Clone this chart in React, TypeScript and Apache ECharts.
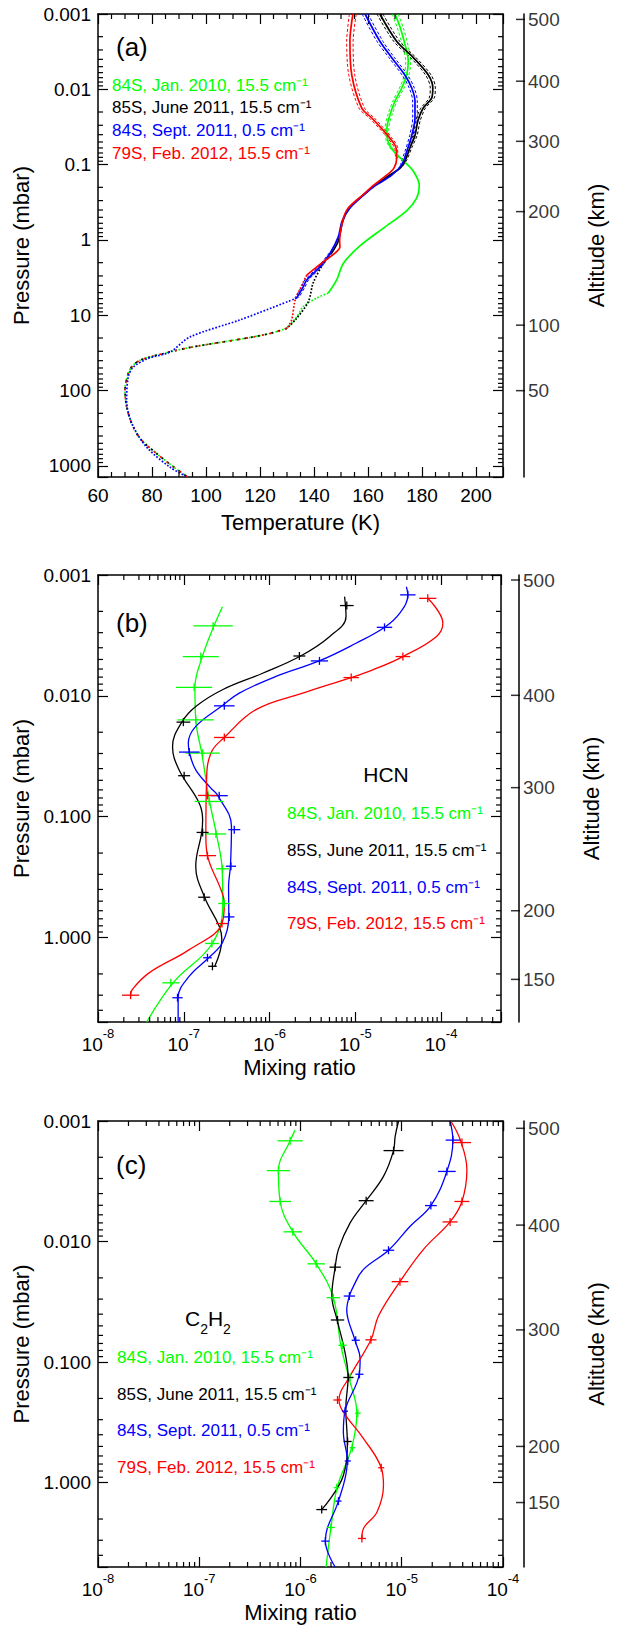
import React, { useEffect, useRef } from "react";
import * as echarts from "echarts";

const FONT = "'Liberation Sans', Arial, sans-serif";
const GREEN = "#00ff00";
const BLACK = "#000000";
const BLUE = "#0000ff";
const RED = "#ff0000";

// ---------- shared texts ----------
const legendLines = [
  "84S, Jan. 2010, 15.5 cm\u207B\u00B9",
  "85S, June 2011, 15.5 cm\u207B\u00B9",
  "84S, Sept. 2011, 0.5 cm\u207B\u00B9",
  "79S, Feb. 2012, 15.5 cm\u207B\u00B9",
];
const legendColors = [GREEN, BLACK, BLUE, RED];

// ---------- Panel (a): temperature ----------
const tempTickValues = [60, 80, 100, 120, 140, 160, 180, 200];
const tempTickLabels = ["60", "80", "100", "120", "140", "160", "180", "200"];
const pressTickValuesA = [0.001, 0.01, 0.1, 1, 10, 100, 1000];
const pressTickLabelsA = ["0.001", "0.01", "0.1", "1", "10", "100", "1000"];
const altLabelsA = ["500", "400", "300", "200", "100", "50"];
const altPressA = [0.00118, 0.0078, 0.049, 0.42, 13.5, 100];

const greenP_a = [0.001, 0.0015, 0.0028, 0.0042, 0.0065, 0.0096, 0.0143, 0.022, 0.033, 0.049, 0.066, 0.089, 0.122, 0.19, 0.278, 0.41, 0.7, 1.2, 2.03, 3.39, 5.07];
const greenT_a = [170, 171.9, 174, 174.9, 174.3, 172.5, 170, 168.1, 167, 167.4, 169.4, 173.1, 176.8, 179, 178, 174.3, 165.6, 157, 150.9, 148.4, 145.3];
const greenErr_a = [1.3, 1.3, 1.2, 1.1, 1.0, 1.0, 0.9, 0.9, 0.8, 0.7, 0.5, 0, 0, 0, 0, 0, 0, 0, 0, 0, 0];
const greenApP = [5.07, 5.9, 7.7, 10.5, 14.9];
const greenApT = [145.3, 141, 136, 133.6, 129.9];

const blackP_a = [0.001, 0.0023, 0.0038, 0.0065, 0.0096, 0.013, 0.0178, 0.026, 0.041, 0.06, 0.089, 0.111, 0.138, 0.19, 0.25, 0.38, 0.56, 1.03, 1.5];
const blackT_a = [164.4, 170.6, 176.8, 182.4, 184, 183.6, 180.4, 178.5, 177.4, 175.5, 173.7, 171.9, 168, 162.3, 158.4, 153, 150.7, 149, 146.5];
const blackErr_a = [1.3, 1.3, 1.2, 1.2, 1.1, 1.1, 1.0, 1.0, 0.9, 0.8, 0.6, 0.4, 0, 0, 0, 0, 0, 0, 0];
const blackApP = [1.5, 2.05, 3.7, 6.6, 11.6, 14.9];
const blackApT = [146.5, 143.5, 139.7, 137.9, 133, 129.9];

const blueP_a = [0.001, 0.0023, 0.0038, 0.0065, 0.0096, 0.0143, 0.024, 0.041, 0.066, 0.1, 0.138, 0.19, 0.25, 0.38, 0.56, 0.91, 1.49, 2.27, 3.39, 4.2, 5.9];
const blueT_a = [158.9, 164.4, 168.8, 173.7, 176.2, 177.4, 177.4, 176.2, 174.4, 172.5, 168.8, 162.7, 158.6, 153.2, 150.4, 149, 146, 142.2, 137.3, 136, 133.6];
const blueErr_a = [1.3, 1.3, 1.2, 1.2, 1.1, 1.0, 1.0, 0.9, 0.8, 0.6, 0, 0, 0, 0, 0, 0, 0.5, 0.7, 0.8, 0.8, 0.8];
const blueApP = [5.9, 11.5, 19.4, 30.7, 37.4, 49, 66, 134, 270, 562, 1040, 1400];
const blueApT = [133.6, 112.6, 94, 86.7, 78.5, 73, 71.2, 70.6, 72.5, 78, 86.7, 93.2];

const redP_a = [0.001, 0.0023, 0.0065, 0.0178, 0.024, 0.033, 0.044, 0.06, 0.084, 0.111, 0.138, 0.19, 0.25, 0.38, 0.56, 1.03, 1.24, 1.49, 1.95, 2.92];
const redT_a = [154.4, 153.3, 154, 157.7, 161.4, 165, 168, 170.4, 170.6, 169.6, 166.9, 161.9, 158.2, 152.6, 150.6, 149.5, 149.6, 147.8, 143.4, 137.3];
const redErr_a = [1.5, 1.4, 1.3, 1.2, 1.1, 1.0, 0.9, 0.7, 0.5, 0, 0, 0, 0, 0, 0, 0, 0, 0, 0, 0];
const redApP = [2.92, 4.2, 6.3, 11.6, 14.9];
const redApT = [137.3, 135.2, 133, 131.7, 129.9];

// common a priori below ~15 mbar (green / black / red)
const commonApP = [14.9, 17.4, 19.7, 22.5, 26.7, 31.4, 39.4, 48.3, 59, 98, 164, 273, 432, 683, 1024, 1400];
const commonApT = [129.9, 123.7, 116.3, 106.4, 94.1, 85.4, 75.6, 72.5, 71.2, 70, 70.6, 72.5, 75.6, 81.7, 87.9, 93.2];

// ---------- Panel (b): HCN ----------
const mixTickValues = [1e-8, 1e-7, 1e-6, 1e-5, 1e-4];
const mixTickExponents = ["-8", "-7", "-6", "-5", "-4"];
const pressTickValuesBC = [0.001, 0.01, 0.1, 1];
const pressTickLabelsBC = ["0.001", "0.010", "0.100", "1.000"];
const altLabelsB = ["500", "400", "300", "200", "150"];
const altPressB = [0.0011, 0.0099, 0.0575, 0.6, 2.22];

const hcnGreenP = [0.00183, 0.00264, 0.00473, 0.0085, 0.0158, 0.0298, 0.0748, 0.139, 0.27, 0.523, 1.12, 2.37, 5.0];
const hcnGreenV = [2.83e-7, 2.25e-7, 1.65e-7, 1.35e-7, 1.38e-7, 1.62e-7, 2.0e-7, 2.4e-7, 2.8e-7, 2.85e-7, 2.15e-7, 7.5e-8, 3.7e-8];
const hcnGreenErrP = [0.00264, 0.00473, 0.0085, 0.0158, 0.0298, 0.0748, 0.139, 0.27, 0.523, 1.12, 2.37];
const hcnGreenErrV = [2.2e-7, 1.58e-7, 1.32e-7, 1.38e-7, 1.66e-7, 1.98e-7, 2.37e-7, 2.83e-7, 2.97e-7, 2.13e-7, 7.07e-8];
const hcnGreenErrD = [0.23, 0.21, 0.21, 0.21, 0.2, 0.17, 0.12, 0.075, 0.07, 0.08, 0.1];

const hcnBlackP = [0.00151, 0.0022, 0.00324, 0.00468, 0.0065, 0.0089, 0.0122, 0.0165, 0.0262, 0.0409, 0.077, 0.106, 0.135, 0.257, 0.464, 0.807, 1.04, 1.73];
const hcnBlackV = [7.5e-6, 7.8e-6, 5.0e-6, 2.3e-6, 8.3e-7, 2.83e-7, 1.39e-7, 9.5e-8, 7.4e-8, 8.8e-8, 1.51e-7, 1.66e-7, 1.62e-7, 1.38e-7, 1.75e-7, 2.59e-7, 2.78e-7, 2.3e-7];
const hcnBlackErrP = [0.00179, 0.00468, 0.0165, 0.0458, 0.135, 0.464, 1.73];
const hcnBlackErrV = [7.96e-6, 2.23e-6, 9.9e-8, 1.01e-7, 1.66e-7, 1.73e-7, 2.16e-7];
const hcnBlackErrD = [0.08, 0.07, 0.08, 0.07, 0.07, 0.07, 0.05];

const hcnBlueP = [0.00125, 0.00146, 0.00207, 0.00271, 0.00367, 0.00514, 0.0069, 0.0095, 0.0121, 0.0179, 0.0246, 0.0292, 0.041, 0.058, 0.067, 0.12, 0.257, 0.376, 0.675, 1.1, 1.47, 2.09, 3.15, 5.0];
const hcnBlueV = [3.94e-5, 4.1e-5, 3.3e-5, 2.2e-5, 1.02e-5, 3.8e-6, 1.19e-6, 4.44e-7, 2.8e-7, 1.38e-7, 1.13e-7, 1.16e-7, 1.38e-7, 2.07e-7, 2.5e-7, 3.6e-7, 3.5e-7, 3.33e-7, 3.35e-7, 2.83e-7, 1.95e-7, 1.16e-7, 8.6e-8, 8.6e-8];
const hcnBlueErrP = [0.00146, 0.00271, 0.00514, 0.0121, 0.0292, 0.067, 0.128, 0.257, 0.675, 1.47, 3.15];
const hcnBlueErrV = [4.1e-5, 2.19e-5, 3.82e-6, 2.97e-7, 1.16e-7, 2.59e-7, 3.88e-7, 3.55e-7, 3.39e-7, 1.89e-7, 8.45e-8];
const hcnBlueErrD = [0.09, 0.09, 0.1, 0.12, 0.12, 0.1, 0.07, 0.06, 0.06, 0.05, 0.06];

const hcnRedP = [0.00156, 0.00251, 0.00324, 0.00473, 0.0061, 0.00706, 0.0095, 0.013, 0.0221, 0.0298, 0.0525, 0.146, 0.21, 0.4, 0.516, 0.766, 1.26, 1.96, 2.69, 3.0];
const hcnRedV = [7.0e-5, 1.05e-4, 8.8e-5, 3.59e-5, 1.6e-5, 8.96e-6, 2.44e-6, 6.95e-7, 2.97e-7, 2.07e-7, 1.84e-7, 1.81e-7, 1.89e-7, 2.71e-7, 2.97e-7, 2.79e-7, 1.16e-7, 3.94e-8, 2.51e-8, 2.4e-8];
const hcnRedErrP = [0.00156, 0.00473, 0.00706, 0.0221, 0.0667, 0.21, 0.766, 3.0];
const hcnRedErrV = [7.0e-5, 3.59e-5, 8.96e-6, 2.97e-7, 1.89e-7, 1.89e-7, 2.79e-7, 2.4e-8];
const hcnRedErrD = [0.1, 0.085, 0.09, 0.12, 0.11, 0.1, 0.07, 0.1];

// ---------- Panel (c): C2H2 ----------
const altLabelsC = ["500", "400", "300", "200", "150"];
const altPressC = [0.00115, 0.0073, 0.054, 0.5, 1.46];

const c2GreenP = [0.00119, 0.00146, 0.00258, 0.00465, 0.0083, 0.0153, 0.0292, 0.0724, 0.134, 0.265, 0.513, 1.1, 2.35, 5.0];
const c2GreenV = [8.85e-7, 7.9e-7, 6.05e-7, 6.3e-7, 8.4e-7, 1.43e-6, 2.11e-6, 2.5e-6, 3.0e-6, 3.6e-6, 3.2e-6, 2.3e-6, 2.0e-6, 1.79e-6];
const c2GreenErrP = [0.00146, 0.00258, 0.00465, 0.0083, 0.0153, 0.0292, 0.0724, 0.134, 0.265, 0.513, 1.1, 2.35];
const c2GreenErrV = [7.9e-7, 6.05e-7, 6.3e-7, 8.4e-7, 1.43e-6, 2.11e-6, 2.6e-6, 3.09e-6, 3.68e-6, 3.26e-6, 2.28e-6, 1.99e-6];
const c2GreenErrD = [0.124, 0.115, 0.107, 0.092, 0.087, 0.066, 0.041, 0.033, 0.028, 0.028, 0.028, 0.04];

const c2BlackP = [0.001, 0.00135, 0.00176, 0.00288, 0.00458, 0.007, 0.0116, 0.0163, 0.0283, 0.0447, 0.083, 0.134, 0.244, 0.455, 0.87, 1.67];
const c2BlackV = [9.3e-6, 8.6e-6, 8.3e-6, 6.6e-6, 4.45e-6, 3.09e-6, 2.37e-6, 2.2e-6, 2.04e-6, 2.3e-6, 2.75e-6, 2.95e-6, 2.8e-6, 2.9e-6, 2.65e-6, 1.62e-6];
const c2BlackErrP = [0.00176, 0.00458, 0.0163, 0.0447, 0.134, 0.455, 1.67];
const c2BlackErrV = [8.3e-6, 4.45e-6, 2.2e-6, 2.32e-6, 2.97e-6, 2.92e-6, 1.62e-6];
const c2BlackErrD = [0.099, 0.074, 0.056, 0.066, 0.05, 0.04, 0.053];

const c2BlueP = [0.001, 0.00144, 0.00262, 0.00503, 0.00746, 0.0118, 0.017, 0.0234, 0.0283, 0.0365, 0.0658, 0.094, 0.126, 0.255, 0.38, 0.66, 0.93, 1.42, 3.05, 5.0];
const c2BlueV = [3.0e-5, 3.2e-5, 2.79e-5, 1.94e-5, 1.21e-5, 7.4e-6, 4.19e-6, 3.34e-6, 3.04e-6, 2.86e-6, 3.45e-6, 3.88e-6, 3.8e-6, 2.75e-6, 2.65e-6, 2.9e-6, 2.75e-6, 2.37e-6, 1.76e-6, 2.2e-6];
const c2BlueErrP = [0.00144, 0.00262, 0.00503, 0.0118, 0.0283, 0.0658, 0.126, 0.255, 0.66, 1.42, 3.05];
const c2BlueErrV = [3.2e-5, 2.79e-5, 1.94e-5, 7.4e-6, 3.04e-6, 3.51e-6, 3.82e-6, 2.75e-6, 2.93e-6, 2.37e-6, 1.76e-6];
const c2BlueErrD = [0.072, 0.087, 0.058, 0.056, 0.056, 0.04, 0.04, 0.03, 0.03, 0.03, 0.04];

const c2RedP = [0.001, 0.00143, 0.00254, 0.00465, 0.00687, 0.0116, 0.0215, 0.0414, 0.0653, 0.13, 0.206, 0.26, 0.43, 0.751, 1.05, 1.75, 2.4, 2.9];
const c2RedV = [3.05e-5, 3.78e-5, 4.4e-5, 3.93e-5, 3.0e-5, 1.64e-5, 9.6e-6, 5.89e-6, 4.96e-6, 3.09e-6, 2.4e-6, 2.65e-6, 4.19e-6, 6.27e-6, 6.6e-6, 5.7e-6, 4.19e-6, 4.04e-6];
const c2RedErrP = [0.00151, 0.00465, 0.00687, 0.0215, 0.0653, 0.206, 0.751, 2.9];
const c2RedErrV = [3.93e-5, 3.93e-5, 3.0e-5, 9.6e-6, 4.96e-6, 2.32e-6, 6.27e-6, 4.04e-6];
const c2RedErrD = [0.09, 0.074, 0.074, 0.082, 0.055, 0.04, 0.03, 0.04];

// ---------- layout ----------
const GA = { left: 98, top: 14, width: 405, height: 463 };
const GB = { left: 98, top: 575, width: 403, height: 447 };
const GC = { left: 98, top: 1121, width: 405, height: 446 };
const ALT_X = [525, 520, 525];

const findIdx = (vals: number[], v: number, log: boolean) =>
  vals.findIndex((t) => (log ? Math.abs(Math.log10(v) - Math.log10(t)) < 1e-4 : Math.abs(v - t) < 1e-6));

const labelFrom = (vals: number[], labs: string[], log: boolean) => (v: number) => {
  const i = findIdx(vals, v, log);
  return i >= 0 ? labs[i] : "";
};

const expLabel = (v: number) => {
  const i = findIdx(mixTickValues, v, true);
  return i >= 0 ? `{b|10}{e|${mixTickExponents[i]}}` : "";
};

function logMinors(lo: number, hi: number) {
  const out: number[] = [];
  for (let k = Math.floor(Math.log10(lo)); k <= Math.ceil(Math.log10(hi)); k++) {
    for (let m = 2; m <= 9; m++) {
      const v = m * Math.pow(10, k);
      if (v > lo * 1.0001 && v < hi * 0.9999) out.push(v);
    }
  }
  return out;
}

const axisLineStyle = { color: BLACK, width: 1.5 };
const MAJOR = 10;
const MINOR = 5;

function yMinorSeries(xi: number, yi: number, xAny: number, values: number[]) {
  return {
    type: "custom",
    xAxisIndex: xi,
    yAxisIndex: yi,
    silent: true,
    clip: false,
    z: 5,
    data: values.map((v) => [xAny, v]),
    renderItem: (params: any, api: any) => {
      const pt = api.coord([api.value(0), api.value(1)]);
      const cs = params.coordSys;
      return {
        type: "group",
        children: [
          { type: "line", shape: { x1: cs.x, y1: pt[1], x2: cs.x + MINOR, y2: pt[1] }, style: { stroke: BLACK, lineWidth: 1.2 } },
          { type: "line", shape: { x1: cs.x + cs.width, y1: pt[1], x2: cs.x + cs.width - MINOR, y2: pt[1] }, style: { stroke: BLACK, lineWidth: 1.2 } },
        ],
      };
    },
  };
}

function xMinorSeries(xi: number, yi: number, yAny: number, values: number[]) {
  return {
    type: "custom",
    xAxisIndex: xi,
    yAxisIndex: yi,
    silent: true,
    clip: false,
    z: 5,
    data: values.map((v) => [v, yAny]),
    renderItem: (params: any, api: any) => {
      const pt = api.coord([api.value(0), api.value(1)]);
      const cs = params.coordSys;
      return {
        type: "group",
        children: [
          { type: "line", shape: { x1: pt[0], y1: cs.y + cs.height, x2: pt[0], y2: cs.y + cs.height - MINOR }, style: { stroke: BLACK, lineWidth: 1.2 } },
          { type: "line", shape: { x1: pt[0], y1: cs.y, x2: pt[0], y2: cs.y + MINOR }, style: { stroke: BLACK, lineWidth: 1.2 } },
        ],
      };
    },
  };
}

function errSeries(xi: number, yi: number, P: number[], V: number[], D: number[], color: string) {
  return {
    type: "custom",
    xAxisIndex: xi,
    yAxisIndex: yi,
    silent: true,
    clip: false,
    z: 6,
    data: P.map((p, i) => [V[i], p, D[i]]),
    renderItem: (params: any, api: any) => {
      const c = api.value(0);
      const p = api.value(1);
      const d = api.value(2);
      const f = Math.pow(10, d);
      const a = api.coord([c / f, p]);
      const b = api.coord([c * f, p]);
      const m = api.coord([c, p]);
      return {
        type: "group",
        children: [
          { type: "line", shape: { x1: a[0], y1: a[1], x2: b[0], y2: b[1] }, style: { stroke: color, lineWidth: 1.3 } },
          { type: "line", shape: { x1: m[0], y1: m[1] - 4, x2: m[0], y2: m[1] + 4 }, style: { stroke: color, lineWidth: 1.3 } },
        ],
      };
    },
  };
}

function lineSeries(xi: number, yi: number, X: number[], P: number[], color: string, width: number, type: any, smooth: any) {
  return {
    type: "line",
    xAxisIndex: xi,
    yAxisIndex: yi,
    data: P.map((p, i) => [X[i], p]),
    showSymbol: false,
    symbol: "none",
    smooth,
    silent: true,
    lineStyle: { color, width, type },
    z: 4,
  };
}

function envelopeSeries(P: number[], T: number[], E: number[], color: string) {
  const out: any[] = [];
  for (const sign of [1, -1]) {
    let seg: number[][] = [];
    const flush = () => {
      if (seg.length > 1) {
        out.push({
          type: "line",
          xAxisIndex: 0,
          yAxisIndex: 0,
          data: seg,
          showSymbol: false,
          symbol: "none",
          smooth: 0.3,
          silent: true,
          lineStyle: { color, width: 1, type: [3, 2] },
          z: 3,
        });
      }
      seg = [];
    };
    P.forEach((p, i) => {
      if (E[i] > 0) seg.push([T[i] + sign * E[i] * 0.85, p]);
      else flush();
    });
    flush();
  }
  return out;
}

function altSeries(xi: number, yi: number, P: number[], labels: string[]) {
  return {
    type: "scatter",
    xAxisIndex: xi,
    yAxisIndex: yi,
    silent: true,
    clip: false,
    symbol: "rect",
    symbolSize: [9, 1.5],
    symbolOffset: [-4.5, 0],
    itemStyle: { color: BLACK },
    data: P.map((p, i) => ({ value: [1, p], name: labels[i] })),
    label: {
      show: true,
      position: "right",
      distance: 3,
      formatter: "{b}",
      fontSize: 19,
      fontFamily: FONT,
      color: BLACK,
    },
    z: 5,
  };
}

function buildOption() {
  const tickLabelStyle = { fontSize: 19, fontFamily: FONT, color: BLACK };
  const nameStyle = { fontSize: 22, fontFamily: FONT, color: BLACK };
  const richExp = {
    b: { fontSize: 19, fontFamily: FONT, color: BLACK, lineHeight: 27, verticalAlign: "bottom" },
    e: { fontSize: 13, fontFamily: FONT, color: BLACK, lineHeight: 27, verticalAlign: "top" },
  };
  const grids: any[] = [];
  const xAxes: any[] = [];
  const yAxes: any[] = [];
  const series: any[] = [];

  const panels = [
    { g: GA, xType: "value", xMin: 60, xMax: 210, xName: "Temperature (K)", yMax: 1400, yVals: pressTickValuesA, yLabs: pressTickLabelsA, altP: altPressA, altL: altLabelsA },
    { g: GB, xType: "log", xMin: 1e-8, xMax: 5e-4, xName: "Mixing ratio", yMax: 5, yVals: pressTickValuesBC, yLabs: pressTickLabelsBC, altP: altPressB, altL: altLabelsB },
    { g: GC, xType: "log", xMin: 1e-8, xMax: 1e-4, xName: "Mixing ratio", yMax: 5, yVals: pressTickValuesBC, yLabs: pressTickLabelsBC, altP: altPressC, altL: altLabelsC },
  ];

  panels.forEach((pn, k) => {
    const gi = grids.length;
    grids.push({ left: pn.g.left, top: pn.g.top, width: pn.g.width, height: pn.g.height, containLabel: false });
    grids.push({ left: ALT_X[k] - 1, top: pn.g.top, width: 1, height: pn.g.height, containLabel: false });
    const isLog = pn.xType === "log";
    const xBase: any = {
      gridIndex: gi,
      type: pn.xType,
      min: pn.xMin,
      max: pn.xMax,
      splitLine: { show: false },
      axisLine: { show: true, lineStyle: axisLineStyle },
      axisTick: { show: true, inside: true, length: MAJOR, lineStyle: { color: BLACK, width: 1.2 } },
      minorTick: { show: false },
    };
    if (!isLog) xBase.interval = 20;
    xAxes.push({
      ...xBase,
      position: "bottom",
      axisLabel: isLog
        ? { ...tickLabelStyle, margin: 5, formatter: expLabel, rich: richExp }
        : { ...tickLabelStyle, margin: 9, formatter: labelFrom(tempTickValues, tempTickLabels, false) },
      name: pn.xName,
      nameLocation: "middle",
      nameGap: 34,
      nameTextStyle: nameStyle,
    });
    xAxes.push({ ...xBase, position: "top", axisLabel: { show: false } });
    xAxes.push({ gridIndex: gi + 1, type: "value", min: 0, max: 1, show: false });

    const yBase: any = {
      gridIndex: gi,
      type: "log",
      logBase: 10,
      inverse: true,
      min: 0.001,
      max: pn.yMax,
      splitLine: { show: false },
      axisLine: { show: true, lineStyle: axisLineStyle },
      axisTick: { show: true, inside: true, length: MAJOR, lineStyle: { color: BLACK, width: 1.2 } },
      minorTick: { show: false },
    };
    yAxes.push({
      ...yBase,
      position: "left",
      axisLabel: { ...tickLabelStyle, margin: 7, formatter: labelFrom(pn.yVals, pn.yLabs, true) },
      name: "Pressure (mbar)",
      nameLocation: "middle",
      nameGap: 65,
      nameRotate: 90,
      nameTextStyle: nameStyle,
    });
    yAxes.push({ ...yBase, position: "right", axisLabel: { show: false } });
    yAxes.push({
      gridIndex: gi + 1,
      type: "log",
      logBase: 10,
      inverse: true,
      min: 0.001,
      max: pn.yMax,
      position: "right",
      splitLine: { show: false },
      axisLine: { show: true, lineStyle: axisLineStyle },
      axisTick: { show: false },
      axisLabel: { show: false },
      name: "Altitude (km)",
      nameLocation: "middle",
      nameGap: 60,
      nameRotate: 90,
      nameTextStyle: nameStyle,
    });

    const xi = k * 3;
    const yi = k * 3;
    series.push(yMinorSeries(xi, yi, isLog ? 1e-6 : 100, logMinors(0.001, pn.yMax)));
    if (isLog) {
      series.push(xMinorSeries(xi, yi, 0.01, logMinors(pn.xMin, pn.xMax)));
    } else {
      const vals: number[] = [];
      for (let v = 65; v < 210; v += 5) if (v % 20 !== 0) vals.push(v);
      series.push(xMinorSeries(xi, yi, 0.01, vals));
    }
    series.push(altSeries(xi + 2, yi + 2, pn.altP, pn.altL));
  });

  // ----- panel (a) lines -----
  const W = 1.7;
  series.push(...envelopeSeries(greenP_a, greenT_a, greenErr_a, GREEN));
  series.push(...envelopeSeries(blackP_a, blackT_a, blackErr_a, BLACK));
  series.push(...envelopeSeries(blueP_a, blueT_a, blueErr_a, BLUE));
  series.push(...envelopeSeries(redP_a, redT_a, redErr_a, RED));
  series.push(lineSeries(0, 0, greenApT, greenApP, GREEN, W, "dotted", 0.3));
  series.push(lineSeries(0, 0, commonApT, commonApP, GREEN, W, "dotted", 0.3));
  series.push(lineSeries(0, 0, blackApT, blackApP, BLACK, W, "dotted", 0.3));
  series.push(lineSeries(0, 0, commonApT, commonApP, BLACK, W, [2, 5], 0.3));
  series.push(lineSeries(0, 0, redApT, redApP, RED, W, "dotted", 0.3));
  series.push(lineSeries(0, 0, commonApT, commonApP, RED, W, [2, 6], 0.3));
  series.push(lineSeries(0, 0, blueApT, blueApP, BLUE, W, "dotted", 0.3));
  series.push(lineSeries(0, 0, greenT_a, greenP_a, GREEN, W, "solid", 0.3));
  series.push(lineSeries(0, 0, blackT_a, blackP_a, BLACK, W, "solid", 0.3));
  series.push(lineSeries(0, 0, blueT_a, blueP_a, BLUE, W, "solid", 0.3));
  series.push(lineSeries(0, 0, redT_a, redP_a, RED, W, "solid", 0.3));

  // ----- panel (b) -----
  const W2 = 1.3;
  series.push(lineSeries(3, 3, hcnGreenV, hcnGreenP, GREEN, W2, "solid", 0.4));
  series.push(lineSeries(3, 3, hcnBlackV, hcnBlackP, BLACK, W2, "solid", 0.4));
  series.push(lineSeries(3, 3, hcnBlueV, hcnBlueP, BLUE, W2, "solid", 0.4));
  series.push(lineSeries(3, 3, hcnRedV, hcnRedP, RED, W2, "solid", 0.4));
  series.push(errSeries(3, 3, hcnGreenErrP, hcnGreenErrV, hcnGreenErrD, GREEN));
  series.push(errSeries(3, 3, hcnBlackErrP, hcnBlackErrV, hcnBlackErrD, BLACK));
  series.push(errSeries(3, 3, hcnBlueErrP, hcnBlueErrV, hcnBlueErrD, BLUE));
  series.push(errSeries(3, 3, hcnRedErrP, hcnRedErrV, hcnRedErrD, RED));

  // ----- panel (c) -----
  series.push(lineSeries(6, 6, c2GreenV, c2GreenP, GREEN, W2, "solid", 0.4));
  series.push(lineSeries(6, 6, c2BlackV, c2BlackP, BLACK, W2, "solid", 0.4));
  series.push(lineSeries(6, 6, c2BlueV, c2BlueP, BLUE, W2, "solid", 0.4));
  series.push(lineSeries(6, 6, c2RedV, c2RedP, RED, W2, "solid", 0.4));
  series.push(errSeries(6, 6, c2GreenErrP, c2GreenErrV, c2GreenErrD, GREEN));
  series.push(errSeries(6, 6, c2BlackErrP, c2BlackErrV, c2BlackErrD, BLACK));
  series.push(errSeries(6, 6, c2BlueErrP, c2BlueErrV, c2BlueErrD, BLUE));
  series.push(errSeries(6, 6, c2RedErrP, c2RedErrV, c2RedErrD, RED));

  // ----- texts -----
  const txt = (x: number, y: number, text: string, color: string, size: number, align = "left") => ({
    type: "text",
    x,
    y,
    silent: true,
    z: 10,
    style: { text, fill: color, font: `${size}px ${FONT}`, textAlign: align, textVerticalAlign: "middle" },
  });
  const graphic: any[] = [];
  graphic.push(txt(116, 47, "(a)", BLACK, 26));
  graphic.push(txt(116, 623, "(b)", BLACK, 26));
  graphic.push(txt(116, 1165, "(c)", BLACK, 26));
  graphic.push(txt(386, 774, "HCN", BLACK, 21, "center"));
  graphic.push({
    type: "text",
    x: 185,
    y: 1322,
    silent: true,
    z: 10,
    style: {
      text: "{a|C}{s|2}{a|H}{s|2}",
      fill: BLACK,
      textVerticalAlign: "middle",
      rich: {
        a: { font: `21px ${FONT}`, fill: BLACK, lineHeight: 28, verticalAlign: "top" },
        s: { font: `14px ${FONT}`, fill: BLACK, lineHeight: 28, verticalAlign: "bottom" },
      },
    },
  });
  const legA = [85, 107, 130, 153];
  const legB = [813, 850, 887, 923];
  const legC = [1357, 1394, 1430, 1467];
  legendLines.forEach((s, i) => {
    graphic.push(txt(112, legA[i], s, legendColors[i], 17));
    graphic.push(txt(287, legB[i], s, legendColors[i], 17));
    graphic.push(txt(117, legC[i], s, legendColors[i], 17));
  });

  return {
    animation: false,
    backgroundColor: "#ffffff",
    textStyle: { fontFamily: FONT },
    grid: grids,
    xAxis: xAxes,
    yAxis: yAxes,
    series,
    graphic,
  };
}

export default function App() {
  const ref = useRef<HTMLDivElement>(null);
  useEffect(() => {
    document.body.style.margin = "0";
    if (!ref.current) return;
    const chart = echarts.init(ref.current, undefined, { renderer: "svg" });
    chart.setOption(buildOption() as any);
    return () => chart.dispose();
  }, []);
  return (
    <div
      ref={ref}
      style={{ position: "absolute", left: 0, top: 0, width: 617, height: 1626, background: "#fff" }}
    />
  );
}
